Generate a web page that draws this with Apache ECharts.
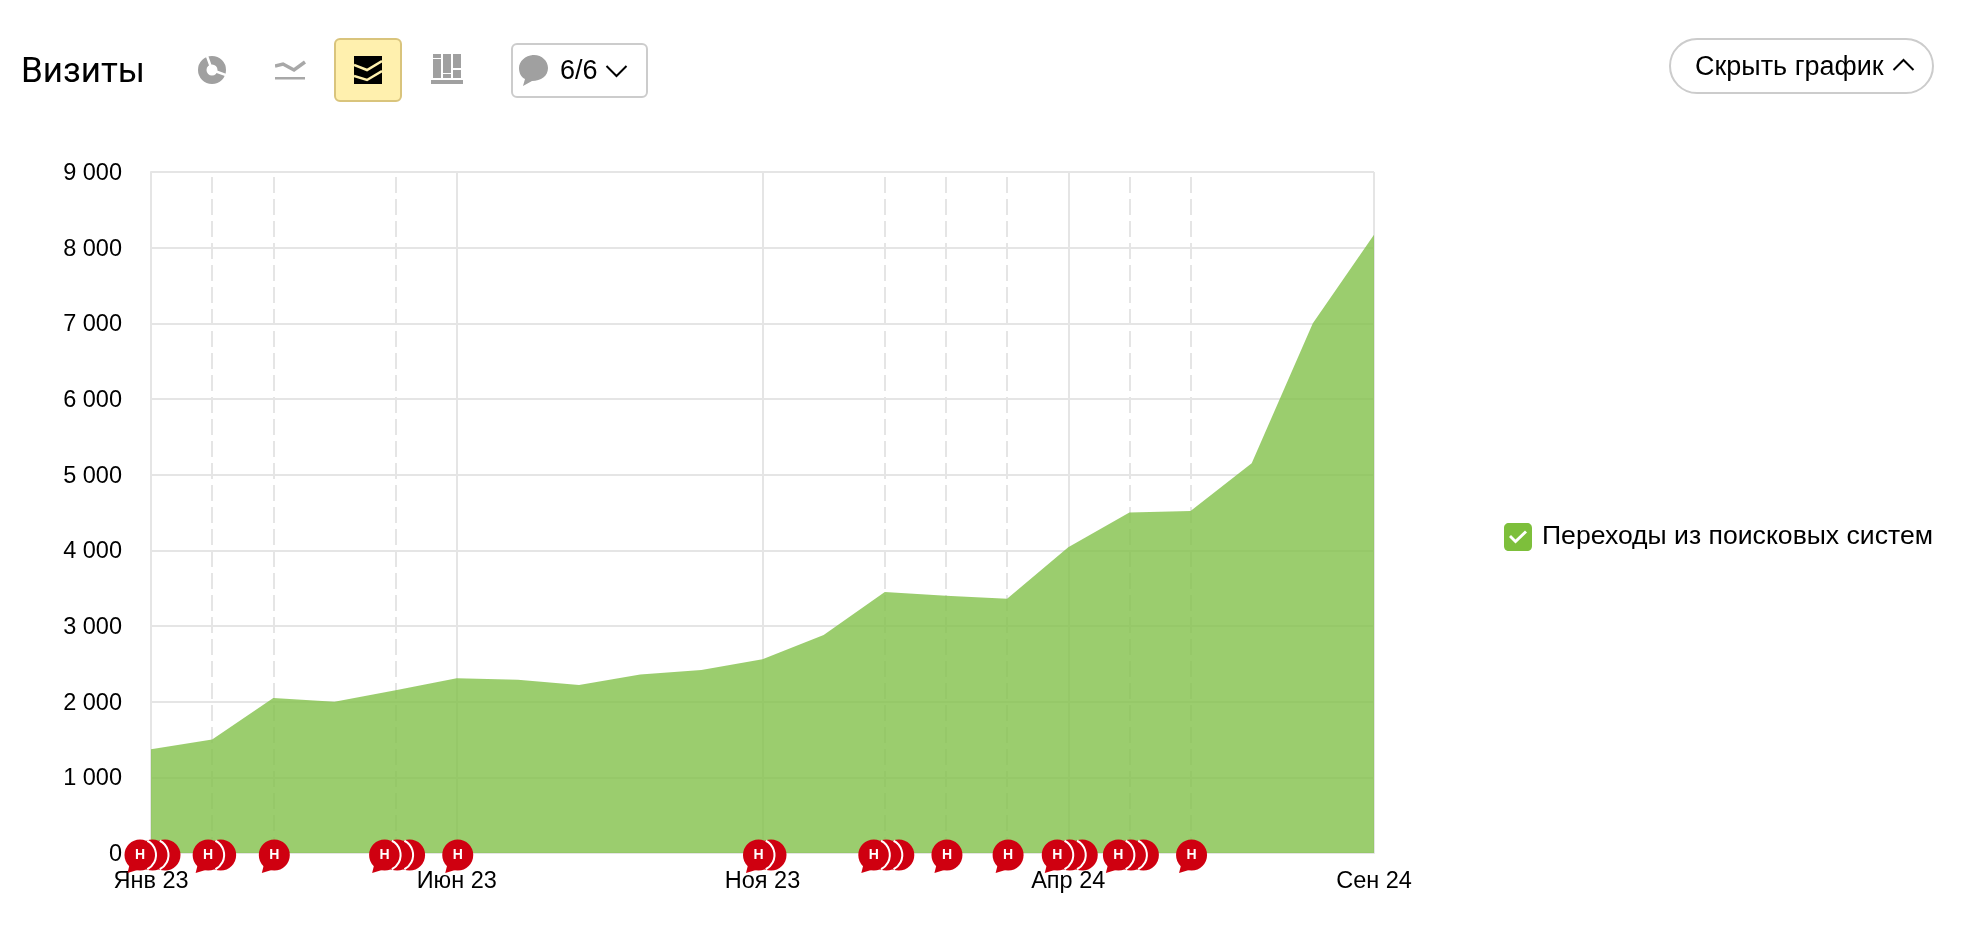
<!DOCTYPE html>
<html>
<head>
<meta charset="utf-8">
<title>Визиты</title>
<script src="https://cdn.jsdelivr.net/npm/echarts@6/dist/echarts.min.js"></script>
<style>
html, body { margin: 0; padding: 0; background: #fff; width: 1970px; height: 934px; overflow: hidden; }
body { font-family: "Liberation Sans", Arial, sans-serif; color: #000; position: relative; }
#main { position: absolute; left: 0; top: 0; width: 1970px; height: 934px; }
.top { position: absolute; z-index: 2; box-sizing: border-box; }
.title { left: 21px; top: 51px; font: 35px/40px Roboto, sans-serif; }
.active { left: 334px; top: 38px; width: 68px; height: 64px; background: #fff0ae; border: 2px solid #d9c47c; border-radius: 6px; }
.notes { left: 511px; top: 43px; width: 137px; height: 55px; border: 2px solid #ccc; border-radius: 6px; font-size: 27px; line-height: 51px; padding-left: 47px; }
.hide { left: 1669px; top: 38px; width: 265px; height: 56px; border: 2px solid #ccc; border-radius: 28px; font-size: 27px; line-height: 53px; padding-left: 24px; }
</style>
</head>
<body>
<div id="main"></div>

<div class="top title">Визиты</div>

<svg class="top" style="left:198px;top:56px" width="28" height="28" viewBox="0 0 28 28">
  <circle cx="14" cy="14" r="9.75" fill="none" stroke="#a0a0a0" stroke-width="8.5"/>
  <path d="M14 14L9 0M14 14L28 19" stroke="#fff" stroke-width="2.5"/>
</svg>
<svg class="top" style="left:275px;top:59px" width="31" height="21" viewBox="0 0 31 21">
  <path d="M0 7L8 5L19 11L30 3" fill="none" stroke="#a8a8a8" stroke-width="3.5"/>
  <rect x="0" y="18" width="30" height="2.5" fill="#a8a8a8"/>
</svg>
<div class="top active"></div>
<svg class="top" style="left:354px;top:56px" width="28" height="28" viewBox="0 0 28 28">
  <rect width="28" height="28" fill="#000"/>
  <path d="M0 9L13 14L28 5" fill="none" stroke="#fff0ae" stroke-width="2.5"/>
  <path d="M0 20L13 24L28 15" fill="none" stroke="#fff0ae" stroke-width="2.5"/>
</svg>
<svg class="top" style="left:431px;top:54px" width="32" height="30" viewBox="0 0 32 30">
  <g fill="#a0a0a0">
    <rect x="2" y="0" width="8" height="4"/><rect x="2" y="5" width="8" height="19"/>
    <rect x="12" y="0" width="8" height="19"/><rect x="12" y="20" width="8" height="4"/>
    <rect x="22" y="0" width="8" height="14"/><rect x="22" y="16" width="8" height="8"/>
    <rect x="0" y="26" width="32" height="4"/>
  </g>
</svg>
<div class="top notes">6/6</div>
<svg class="top" style="left:519px;top:55px" width="30" height="31" viewBox="0 0 30 31">
  <path d="M15 0C23 0 29 6 29 13C29 21 22 26 13 26L4 31L6 24C2 22 0 18 0 13C0 6 7 0 15 0Z" fill="#a0a0a0"/>
</svg>
<svg class="top" style="left:605px;top:64px" width="23" height="14" viewBox="0 0 23 14">
  <path d="M1.5 2L11.5 12L21.5 2" fill="none" stroke="#000" stroke-width="2"/>
</svg>
<div class="top hide">Скрыть график</div>
<svg class="top" style="left:1892px;top:58px" width="23" height="14" viewBox="0 0 23 14">
  <path d="M1.5 12L11.5 2L21.5 12" fill="none" stroke="#000" stroke-width="2"/>
</svg>

<script>
// месяцы по оси X
var months = ['Янв 23', 'Фев 23', 'Мар 23', 'Апр 23', 'Май 23', 'Июн 23', 'Июл 23', 'Авг 23', 'Сен 23', 'Окт 23', 'Ноя 23', 'Дек 23',
  'Янв 24', 'Фев 24', 'Мар 24', 'Апр 24', 'Май 24', 'Июн 24', 'Июл 24', 'Авг 24', 'Сен 24']
// визиты
var visits = [1370, 1500, 2050, 2000, 2150, 2310, 2290, 2220, 2360, 2420, 2560, 2880,
  3450, 3400, 3360, 4040, 4500, 4520, 5150, 7000, 8170]
var seriesName = 'Переходы из поисковых систем'
// примечания: месяц и сколько их в этом месяце
var noteMonths = ['Янв 23', 'Фев 23', 'Мар 23', 'Май 23', 'Июн 23', 'Ноя 23', 'Янв 24', 'Фев 24', 'Мар 24', 'Апр 24', 'Май 24', 'Июн 24']
var noteCounts = [3, 2, 1, 3, 1, 2, 3, 1, 1, 3, 3, 1]
// пунктирные линии у примечаний
var dashedMonths = ['Фев 23', 'Мар 23', 'Май 23', 'Янв 24', 'Фев 24', 'Мар 24', 'Май 24', 'Июн 24']

var gridColor = '#e5e5e5'
var noteRed = '#cf0010'
var frontShift = {1: 1, 2: -4, 3: -11}
var noteStep = 12.5
var noteRadius = 15.5

// квадрат с вырезанной галочкой
var checkIcon = 'path://M5 0H23C26 0 28 2 28 5V23C28 26 26 28 23 28H5C2 28 0 26 0 23V5C0 2 2 0 5 0Z' +
  'M11.5 20.5L23 9.5L21 7.5L11.5 16.5L7 12L5 14Z'

function drawNotes (params, api) {
  var pos = api.coord([api.value(0), 0])
  var count = api.value(1)
  var front = pos[0] + frontShift[count]
  var y = pos[1] + 2
  var children = []
  for (var i = count - 1; i >= 0; i--) {
    var cx = front + i * noteStep
    children.push({
      type: 'circle',
      shape: {cx: cx, cy: y, r: noteRadius},
      style: {fill: noteRed}
    })
    if (i < count - 1) {
      children.push({
        type: 'arc',
        shape: {cx: cx, cy: y, r: noteRadius + 0.5, startAngle: -1.1, endAngle: 1.1},
        style: {stroke: '#fff', lineWidth: 2, fill: null}
      })
    }
  }
  children.push({
    type: 'polygon',
    shape: {points: [[front - 10, y + 8], [front - 12.5, y + 18], [front - 1, y + 14.5]]},
    style: {fill: noteRed}
  })
  children.push({
    type: 'text',
    style: {
      x: front,
      y: y,
      text: 'Н',
      fill: '#fff',
      font: 'bold 14px "Liberation Sans"',
      align: 'center',
      verticalAlign: 'middle'
    }
  })
  return {type: 'group', children: children}
}

var myChart = echarts.init(document.getElementById('main'), null, {renderer: 'canvas'})
myChart.setOption({
  animation: false,
  textStyle: {fontFamily: '"Liberation Sans", Arial, sans-serif'},
  grid: {left: 151, top: 172, width: 1223, height: 681, containLabel: false},
  legend: {
    left: 1499,
    top: 518,
    itemWidth: 28,
    itemHeight: 28,
    selectedMode: false,
    data: [{name: seriesName, icon: checkIcon, itemStyle: {color: '#7dbf3b'}}],
    textStyle: {fontSize: 26.6, color: '#000', padding: [0, 0, 0, 5]}
  },
  xAxis: {
    type: 'category',
    boundaryGap: false,
    data: months,
    axisTick: {show: false},
    axisLine: {lineStyle: {color: gridColor, width: 2}},
    axisLabel: {interval: 4, margin: 17, fontSize: 23.5, color: '#000'},
    splitLine: {show: true, interval: 4, lineStyle: {color: gridColor, width: 2}}
  },
  yAxis: {
    type: 'value',
    min: 0,
    max: 9000,
    interval: 1000,
    axisTick: {show: false},
    axisLine: {show: true, lineStyle: {color: gridColor, width: 2}},
    axisLabel: {
      margin: 29,
      fontSize: 23.5,
      color: '#000',
      verticalAlign: 'top',
      lineHeight: 3,
      formatter: function (v) {
        return String(v).replace(/\B(?=(\d{3})+$)/g, ' ')
      }
    },
    splitLine: {show: true, lineStyle: {color: gridColor, width: 2}}
  },
  series: [
    {
      name: 'dashed',
      type: 'line',
      z: 1,
      silent: true,
      data: [],
      markLine: {
        silent: true,
        z: 1,
        symbol: 'none',
        label: {show: false},
        lineStyle: {color: gridColor, width: 2, type: [16, 6]},
        data: dashedMonths.map(function (m) { return {xAxis: m} })
      }
    },
    {
      name: seriesName,
      type: 'line',
      z: 2,
      data: visits,
      showSymbol: false,
      lineStyle: {width: 0},
      areaStyle: {color: '#82c04a', opacity: 0.8}
    },
    {
      name: 'notes',
      type: 'custom',
      z: 5,
      silent: true,
      clip: false,
      renderItem: drawNotes,
      encode: {x: 0, y: 1},
      data: noteMonths.map(function (m, i) {
        return [months.indexOf(m), noteCounts[i]]
      })
    }
  ]
})
</script>
</body>
</html>
